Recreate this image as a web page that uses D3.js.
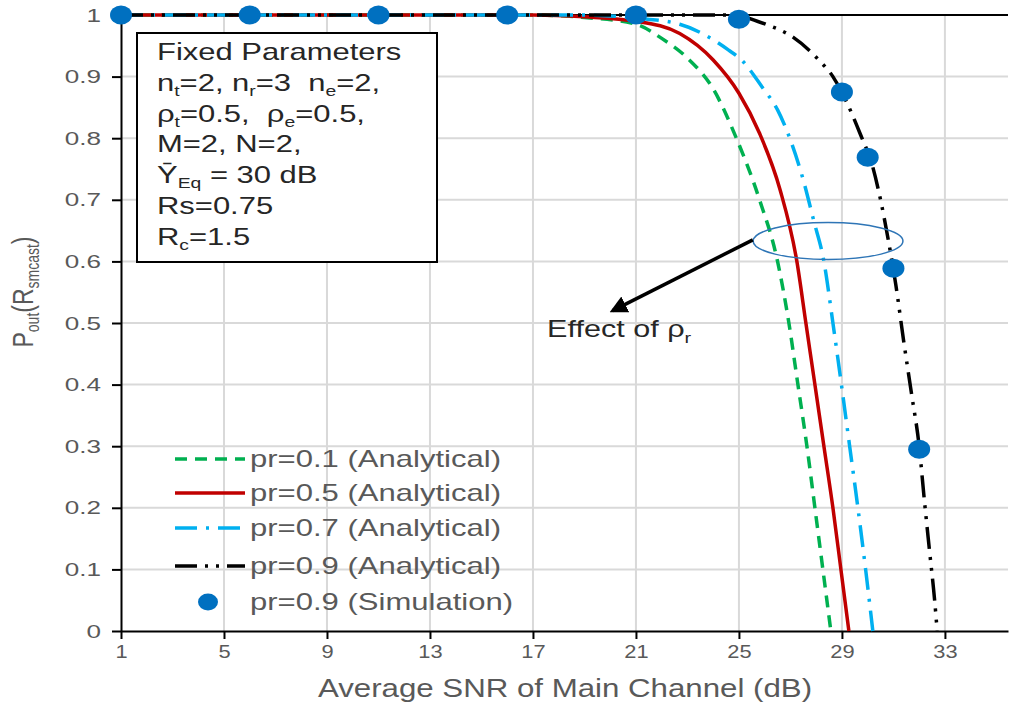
<!DOCTYPE html>
<html>
<head>
<meta charset="utf-8">
<script src="https://cdn.jsdelivr.net/npm/d3@7"></script>
<style>
  body { margin: 0; background: #fff; }
  text { font-family: "Liberation Sans", Arial, sans-serif; white-space: pre; }
</style>
</head>
<body>
<script>
// tick labels
var xTicks = [1, 5, 9, 13, 17, 21, 25, 29, 33];
var yTicks = [0, 0.1, 0.2, 0.3, 0.4, 0.5, 0.6, 0.7, 0.8, 0.9, 1];

// analytical curves, [SNR dB, Pout]
var pr01 = [[1,1],[17,1],[19,0.996],[21,0.985],[22,0.962],[23,0.93],[24,0.88],[24.9,0.8],[25.8,0.7],[26.5,0.6],[26.94,0.5],[27.29,0.4],[27.64,0.3],[27.95,0.2],[28.26,0.1],[28.57,0]];
var pr05 = [[1,1],[17,1],[19,0.997],[21,0.99],[22.7,0.97],[24,0.927],[25,0.873],[25.8,0.808],[26.6,0.716],[27.25,0.6],[27.6,0.5],[27.95,0.4],[28.3,0.3],[28.65,0.2],[28.96,0.1],[29.27,0]];
var pr07 = [[1,1],[19,1],[21,0.995],[22.7,0.985],[24.6,0.943],[25.1,0.927],[25.9,0.883],[26.5,0.846],[27,0.797],[27.5,0.732],[27.9,0.667],[28.3,0.6],[28.65,0.5],[28.98,0.4],[29.3,0.3],[29.62,0.2],[29.92,0.1],[30.2,0]];
var pr09 = [[1,1],[24.6,1],[26.1,0.984],[27.1,0.964],[28.1,0.927],[28.65,0.9],[29.2,0.857],[29.7,0.808],[30.2,0.753],[30.5,0.7],[30.8,0.635],[31.1,0.56],[31.4,0.47],[31.7,0.386],[32,0.3],[32.2,0.213],[32.4,0.131],[32.6,0.05],[32.7,0]];
// simulation points (pr=0.9)
var simX = [1, 6, 11, 16, 21, 25, 29, 30, 31, 32];
var simY = [1, 1, 1, 1, 1, 0.993, 0.875, 0.769, 0.589, 0.295];

var legendNames = ["pr=0.1 (Analytical)", "pr=0.5 (Analytical)", "pr=0.7 (Analytical)", "pr=0.9 (Analytical)", "pr=0.9 (Simulation)"];

var W = 1011, H = 704;
var svg = d3.select("body").append("svg").attr("width", W).attr("height", H);

var x = d3.scaleLinear().domain([1, 35.45]).range([121, 1008]);
var y = d3.scaleLinear().domain([0, 1]).range([631, 15]);

// text helper, stretched horizontally like the source picture
function label(g, str, px, py, size, sx, anchor, color) {
  return g.append("text")
    .attr("transform", "translate(" + px + "," + py + ") scale(" + sx + ",1)")
    .attr("text-anchor", anchor || "start")
    .attr("font-size", size + "px")
    .attr("fill", color || "#595959")
    .text(str);
}

// grid
svg.append("g").selectAll("line").data(xTicks.slice(1)).enter().append("line")
  .attr("x1", function(d){ return x(d); }).attr("x2", function(d){ return x(d); })
  .attr("y1", y(0)).attr("y2", y(1))
  .attr("stroke", "#d9d9d9").attr("stroke-width", 2);
svg.append("g").selectAll("line").data(yTicks.slice(1)).enter().append("line")
  .attr("x1", x(1)).attr("x2", x(35.45))
  .attr("y1", function(d){ return y(d); }).attr("y2", function(d){ return y(d); })
  .attr("stroke", "#d9d9d9").attr("stroke-width", 2);

// axes
var xAxis = svg.append("g").attr("transform", "translate(0," + y(0) + ")")
  .call(d3.axisBottom(x).tickValues(xTicks).tickSize(8).tickSizeOuter(0).tickFormat(d3.format("d")));
var yAxis = svg.append("g").attr("transform", "translate(" + x(1) + ",0)")
  .call(d3.axisLeft(y).tickValues(yTicks).tickSize(9).tickSizeOuter(0)
    .tickFormat(function(d){ return d === 0 ? "0" : d === 1 ? "1" : d.toFixed(1); }));
[xAxis, yAxis].forEach(function(a){
  a.select(".domain").attr("stroke", "#000").attr("stroke-width", 2);
  a.selectAll(".tick line").attr("stroke", "#000").attr("stroke-width", 2);
  a.selectAll(".tick text").attr("fill", "#595959").attr("font-family", "Liberation Sans, Arial, sans-serif");
});
xAxis.selectAll(".tick text").attr("font-size", "19px").attr("y", 14).attr("dy", "0.71em")
  .attr("transform", "scale(1.15,1)").attr("x", 0);
yAxis.selectAll(".tick text").attr("font-size", "18px").attr("x", -20 / 1.45).attr("dy", "0.34em")
  .attr("transform", "scale(1.45,1)");

// top border line
svg.append("line").attr("x1", x(1)).attr("x2", x(35.45)).attr("y1", y(1)).attr("y2", y(1))
  .attr("stroke", "#000").attr("stroke-width", 2);

// curves
var line = d3.line().x(function(d){ return x(d[0]); }).y(function(d){ return y(d[1]); }).curve(d3.curveMonotoneX);
var series = [
  { data: pr01, color: "#00B050", dash: "12,8" },
  { data: pr05, color: "#C00000", dash: null },
  { data: pr07, color: "#00B0F0", dash: "22,9,3,9" },
  { data: pr09, color: "#000000", dash: "22,8,3,8,3,8" }
];
series.forEach(function(s){
  svg.append("path").attr("d", line(s.data)).attr("fill", "none")
    .attr("stroke", s.color).attr("stroke-width", 3.5)
    .attr("stroke-dasharray", s.dash);
});

// simulation markers
svg.append("g").selectAll("ellipse").data(simX).enter().append("ellipse")
  .attr("cx", function(d){ return x(d); })
  .attr("cy", function(d, i){ return y(simY[i]); })
  .attr("rx", 11).attr("ry", 9.5).attr("fill", "#0070C0");

// annotation: ellipse + arrow + text
svg.append("ellipse").attr("cx", x(28.46)).attr("cy", y(0.633))
  .attr("rx", x(28.46) - x(25.55)).attr("ry", y(0.633) - y(0.663))
  .attr("fill", "none").attr("stroke", "#2E75B6").attr("stroke-width", 1.5);
svg.append("defs").append("marker").attr("id", "arr")
  .attr("viewBox", "0 0 10 10").attr("refX", 8).attr("refY", 5)
  .attr("markerWidth", 5).attr("markerHeight", 5).attr("orient", "auto")
  .append("path").attr("d", "M0,0L10,5L0,10z").attr("fill", "#000");
svg.append("line").attr("x1", x(25.54)).attr("y1", y(0.635)).attr("x2", x(20.1)).attr("y2", y(0.52))
  .attr("stroke", "#000").attr("stroke-width", 3.5).attr("marker-end", "url(#arr)");
var ann = label(svg, "Effect of ρ", x(17.55), y(0.477), 23, 1.33, "start", "#262626");
ann.append("tspan").attr("font-size", "15px").attr("dy", 6).text("r");

// fixed parameter box
var box = svg.append("g");
box.append("rect").attr("x", 137).attr("y", 33).attr("width", 300).attr("height", 229)
  .attr("fill", "#fff").attr("stroke", "#000").attr("stroke-width", 2);
var rows = [
  [["Fixed Parameters", 0]],
  [["n", 0], ["t", 1], ["=2, n", 0], ["r", 1], ["=3  n", 0], ["e", 1], ["=2,", 0]],
  [["ρ", 0], ["t", 1], ["=0.5,  ρ", 0], ["e", 1], ["=0.5,", 0]],
  [["M=2, N=2,", 0]],
  [["Ȳ", 0], ["Eq", 1], [" = 30 dB", 0]],
  [["Rs=0.75", 0]],
  [["R", 0], ["c", 1], ["=1.5", 0]]
];
rows.forEach(function(r, i){
  var t = label(box, "", 157, 60 + i * 30.8, 24, 1.29, "start", "#262626");
  var sub = 0;
  r.forEach(function(p){
    var ts = t.append("tspan").text(p[0]);
    if (p[1]) ts.attr("font-size", "15px");
    ts.attr("dy", p[1] && !sub ? 5 : (!p[1] && sub ? -5 : 0));
    sub = p[1];
  });
});

// legend
var lg = svg.append("g");
var legY = [459, 493, 528, 566, 602];
series.forEach(function(s, i){
  lg.append("line").attr("x1", 175).attr("x2", 245).attr("y1", legY[i]).attr("y2", legY[i])
    .attr("stroke", s.color).attr("stroke-width", 3.5).attr("stroke-dasharray", s.dash);
});
lg.append("ellipse").attr("cx", 208).attr("cy", legY[4]).attr("rx", 10).attr("ry", 8.5).attr("fill", "#0070C0");
legendNames.forEach(function(n, i){
  label(lg, n, 250, legY[i] + 8, 23, 1.35, "start", "#595959");
});

// axis titles
label(svg, "Average SNR of Main Channel (dB)", 565, 697, 25, 1.25, "middle", "#595959");
var yl = svg.append("text")
  .attr("transform", "translate(33,292) scale(1.25,1) rotate(-90)")
  .attr("text-anchor", "middle").attr("font-size", "23px").attr("fill", "#595959");
yl.append("tspan").text("P");
yl.append("tspan").attr("font-size", "14px").attr("dy", 5).text("out");
yl.append("tspan").attr("dy", -5).text("(R");
yl.append("tspan").attr("font-size", "14px").attr("dy", 5).text("smcast");
yl.append("tspan").attr("dy", -5).text(")");
</script>
</body>
</html>
